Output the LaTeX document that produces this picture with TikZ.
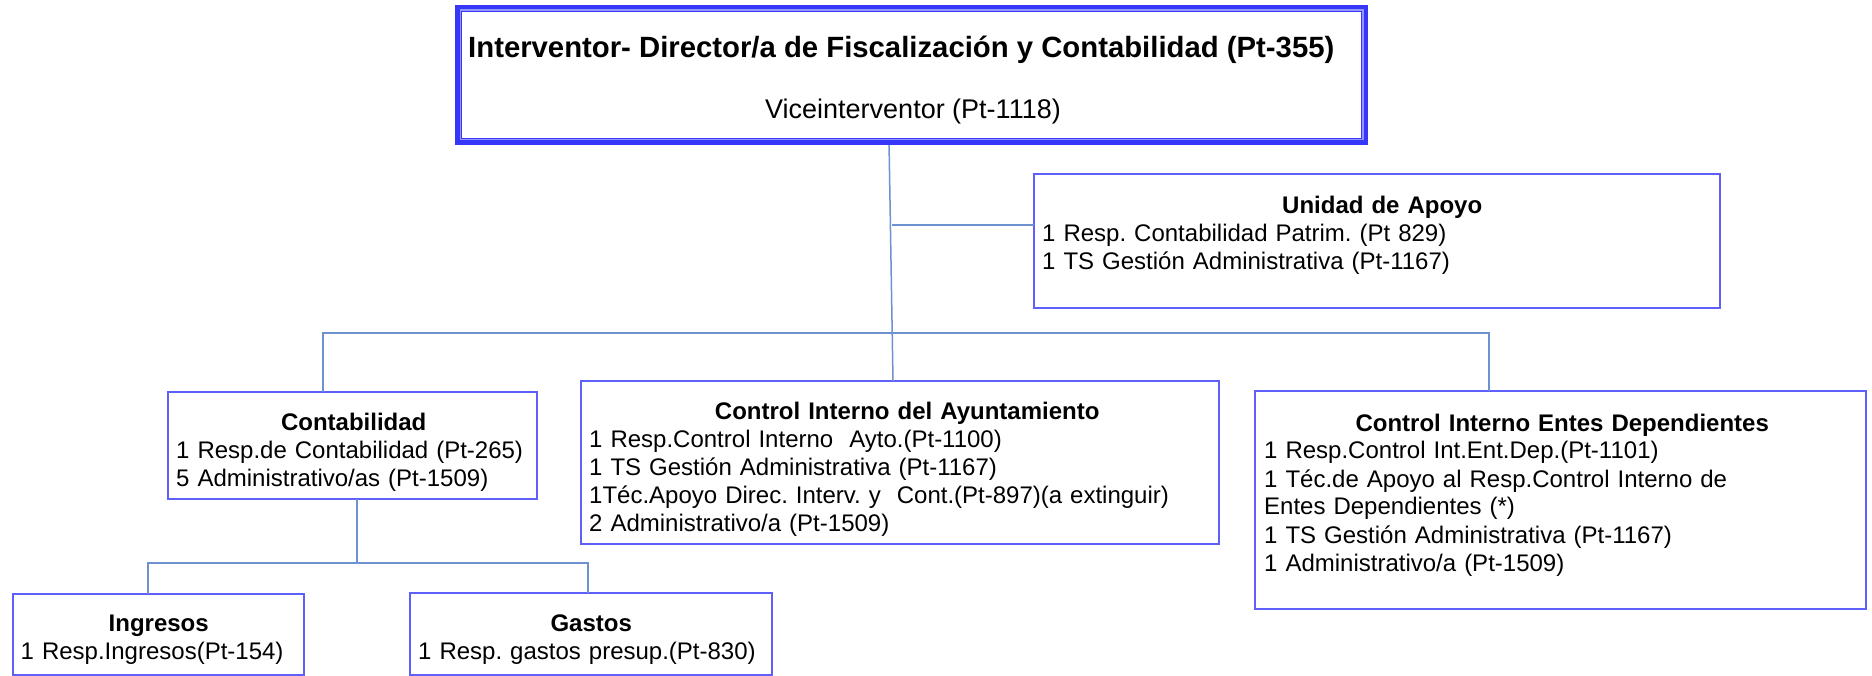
\documentclass[tikz,border=0pt]{standalone}
\usepackage{fontspec}
\setmainfont{Liberation Sans}
\frenchspacing
\definecolor{boxblue}{RGB}{95,95,250}
\definecolor{topblue}{RGB}{55,55,250}
\definecolor{stripecol}{RGB}{150,150,255}
\definecolor{conncol}{RGB}{110,145,210}
\begin{document}
\begin{tikzpicture}[x=1pt,y=-1pt,
  unitbox/.style={draw=boxblue, line width=2pt, inner sep=0, outer sep=0},
  conn/.style={draw=conncol, line width=1.5pt},
  body/.style={anchor=base west, inner sep=0, align=left, font=\frenchspacing\fontsize{24}{28}\selectfont},
]
\useasboundingbox[fill=white] (0,0) rectangle (1872,676);

% named helper coordinates for connector bends
\coordinate (v1) at (889,0);
\coordinate (v2) at (893,0);
\coordinate (ua) at (892,225);
\coordinate (busL) at (323,333);
\coordinate (busR) at (1489,333);
\coordinate (sbx) at (357,563);
\coordinate (sbL) at (148,563);
\coordinate (sbR) at (588,563);

% boxes
\node[draw=topblue, line width=7.3pt, inner sep=0, outer sep=0,
      minimum width=905.7pt, minimum height=132.7pt] (top) at (911.5,75) {};
\node[unitbox, minimum width=686pt, minimum height=134pt] (unidad) at (1377,241) {};
\node[unitbox, minimum width=369pt, minimum height=107pt] (conta) at (352.5,445.5) {};
\node[unitbox, minimum width=638pt, minimum height=163pt] (ayto) at (900,462.5) {};
\node[unitbox, minimum width=611pt, minimum height=218pt] (entes) at (1560.5,500) {};
\node[unitbox, minimum width=291pt, minimum height=81pt] (ingresos) at (158.5,634.5) {};
\node[unitbox, minimum width=362pt, minimum height=82pt] (gastos) at (591,634) {};

% connectors
\draw[conn] (top.south -| v1) -- (ayto.north -| v2);
\draw[conn] (ua) -- (ua -| unidad.west);
\draw[conn] (conta.north -| busL) -- (busL) -- (busR) -- (entes.north -| busR);
\draw[conn] (conta.south -| sbx) -- (sbx);
\draw[conn] (ingresos.north -| sbL) -- (sbL) -- (sbR) -- (gastos.north -| sbR);

% redraw top box over the line and its light inner stripe
\draw[topblue, line width=7.3pt] (top.north west) rectangle (top.south east);
\draw[stripecol, line width=1.1pt] ([shift={(1.4,1.4)}]top.north west) rectangle ([shift={(-1.4,-1.4)}]top.south east);

% texts
\node[anchor=base west, inner sep=0, font=\bfseries\fontsize{29.3}{34}\selectfont] (title) at (468,58)
  {Interventor- Director/a de Fiscalización y Contabilidad (Pt-355)};
\node[anchor=base, inner sep=0, font=\fontsize{27}{32}\selectfont] (vice) at (913,119)
  {Viceinterventor (Pt-1118)};

\node[body, text width=680pt] (unidad-t) at (1042,214)
  {\makebox[\linewidth]{\bfseries Unidad de Apoyo}\\
   1 Resp. Contabilidad Patrim. (Pt 829)\\
   1 TS Gestión Administrativa (Pt-1167)};

\node[body, text width=355pt] (conta-t) at (176,430)
  {\makebox[\linewidth]{\bfseries Contabilidad}\\
   1 Resp.de Contabilidad (Pt-265)\\
   5 Administrativo/as (Pt-1509)};

\node[body, text width=636pt] (ayto-t) at (589,419)
  {\makebox[\linewidth]{\bfseries Control Interno del Ayuntamiento}\\
   1 Resp.Control Interno\ \ Ayto.(Pt-1100)\\
   1 TS Gestión Administrativa (Pt-1167)\\
   1Téc.Apoyo Direc. Interv. y\ \ Cont.(Pt-897)(a extinguir)\\
   2 Administrativo/a (Pt-1509)};

\node[body, text width=596pt] (entes-t) at (1264,431)
  {\makebox[\linewidth]{\bfseries Control Interno Entes Dependientes}\\
   1 Resp.Control Int.Ent.Dep.(Pt-1101)\\
   1 Téc.de Apoyo al Resp.Control Interno de\\
   Entes Dependientes (*)\\
   1 TS Gestión Administrativa (Pt-1167)\\
   1 Administrativo/a (Pt-1509)};

\node[body, text width=276pt] (ingresos-t) at (20.5,631)
  {\makebox[\linewidth]{\bfseries Ingresos}\\
   1 Resp.Ingresos(Pt-154)};

\node[body, text width=346pt] (gastos-t) at (418,631)
  {\makebox[\linewidth]{\bfseries Gastos}\\
   1 Resp. gastos presup.(Pt-830)};
\end{tikzpicture}
\end{document}
